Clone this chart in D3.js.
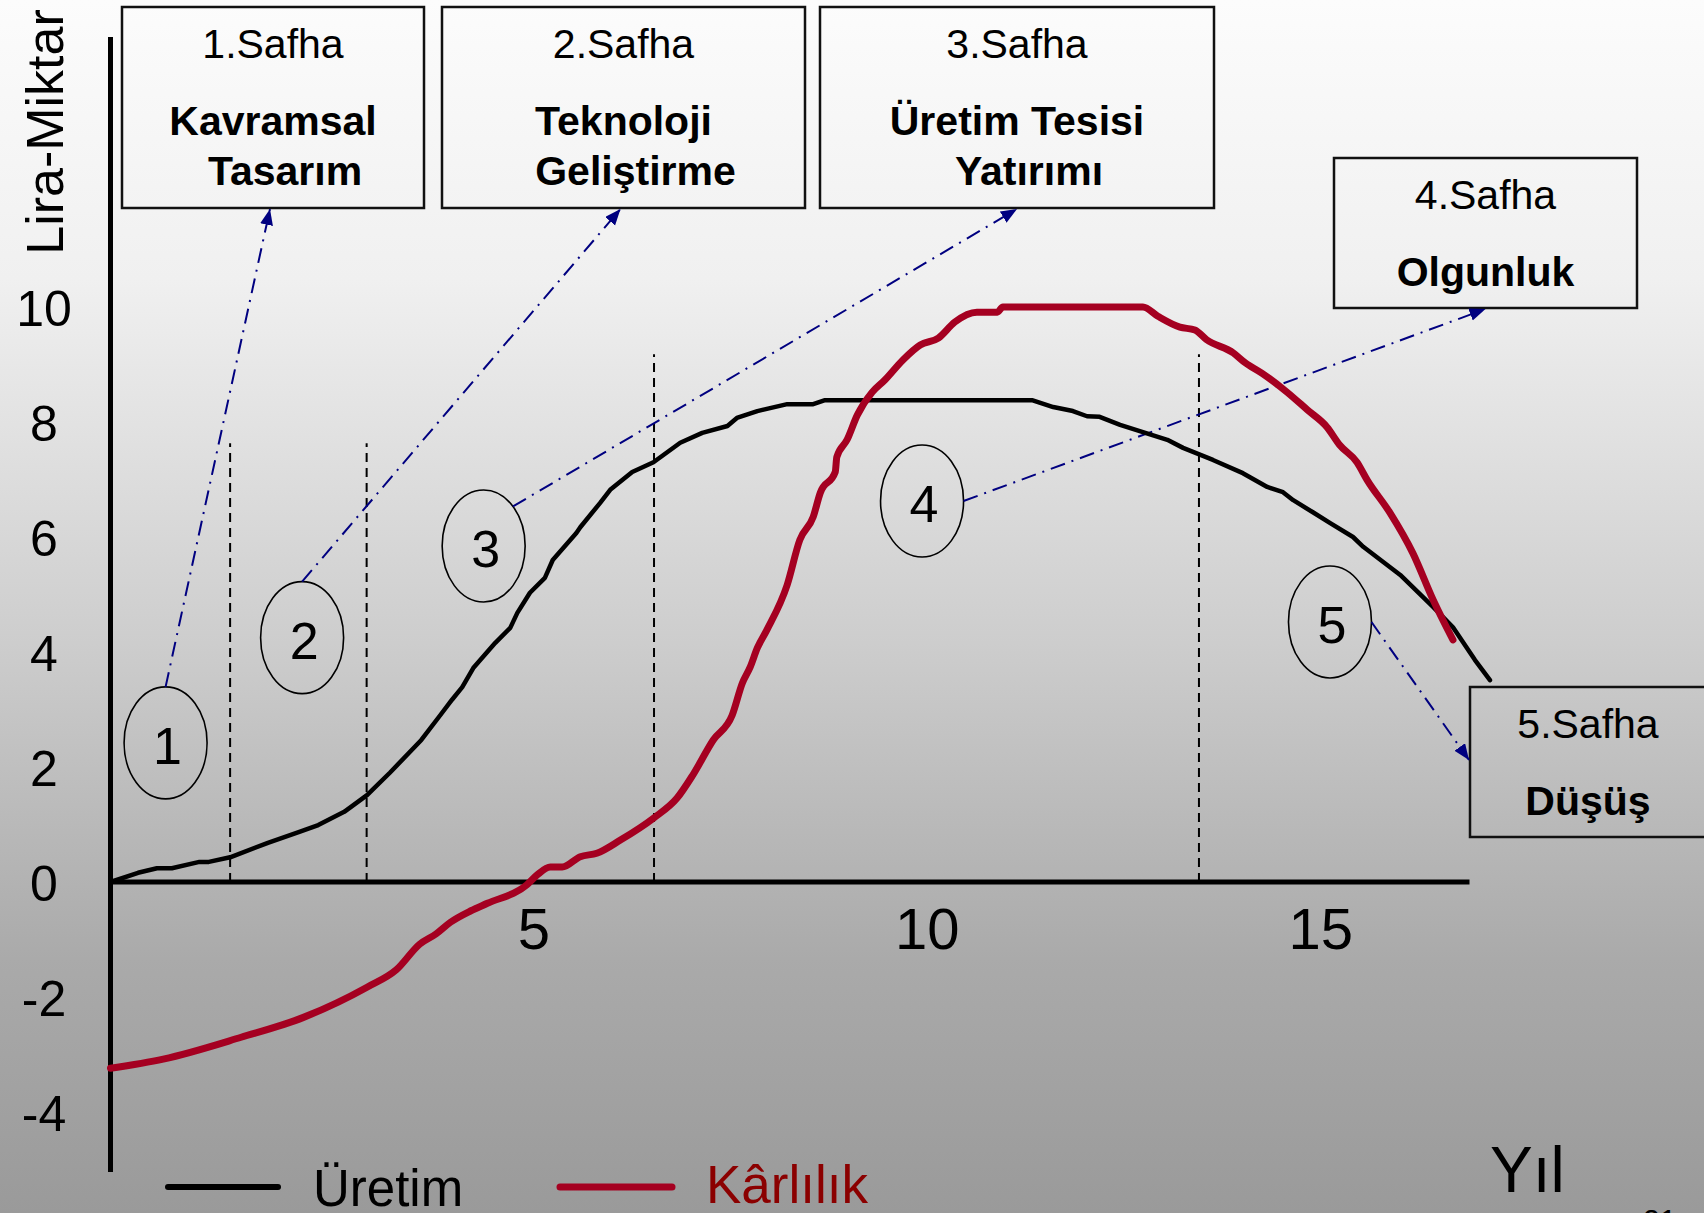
<!DOCTYPE html>
<html><head><meta charset="utf-8">
<script src="https://cdn.jsdelivr.net/npm/d3@7"></script>
<style>html,body{margin:0;padding:0;overflow:hidden;background:#fff}svg{display:block}</style>
</head><body>
<svg id="chart" width="1704" height="1213"></svg>
<script>
// ---------------- DATA ----------------
const xTickValues = [5, 10, 15];
const yTickValues = [-4, -2, 0, 2, 4, 6, 8, 10];

const uretimYil = [-0.38,-0.03,0.21,0.40,0.75,0.87,1.14,1.62,2.02,2.26,2.59,2.88,3.17,3.57,3.81,3.96,4.09,4.23,4.51,4.70,4.79,4.95,5.14,5.24,5.54,5.59,5.84,5.97,6.25,6.52,6.86,7.14,7.46,7.58,7.84,8.22,8.55,8.70,11.33,11.60,11.85,12.03,12.19,12.45,13.05,13.25,13.63,14.01,14.32,14.52,14.65,14.90,15.12,15.41,15.54,16.01,16.43,16.68,16.96,17.15];
const uretimDeger = [0,0.16,0.24,0.24,0.35,0.35,0.43,0.68,0.87,0.99,1.22,1.51,1.90,2.47,2.90,3.17,3.39,3.72,4.16,4.42,4.68,5.03,5.29,5.60,6.07,6.17,6.59,6.82,7.13,7.30,7.64,7.81,7.93,8.07,8.19,8.31,8.31,8.38,8.38,8.26,8.19,8.10,8.09,7.95,7.69,7.55,7.34,7.11,6.87,6.78,6.64,6.43,6.24,6.00,5.83,5.34,4.78,4.43,3.86,3.51];

const karlilikYil = [-0.38,0.29,1.28,2.08,2.88,3.25,3.55,3.76,3.94,4.20,4.41,4.91,5.04,5.21,5.36,5.59,5.80,6.10,6.52,6.82,7.02,7.28,7.52,7.65,7.75,7.84,7.96,8.22,8.38,8.55,8.64,8.83,8.85,8.98,9.11,9.30,9.46,9.69,9.91,10.14,10.35,10.63,10.89,10.96,12.74,12.93,13.21,13.40,13.55,13.89,14.04,14.25,14.57,14.83,15.08,15.24,15.46,15.59,15.88,16.17,16.43,16.68];
const karlilikDeger = [-3.24,-3.08,-2.70,-2.35,-1.83,-1.53,-1.08,-0.90,-0.70,-0.50,-0.37,-0.05,0.12,0.26,0.26,0.44,0.50,0.73,1.11,1.46,1.86,2.47,2.90,3.46,3.74,4.07,4.38,5.17,5.95,6.35,6.77,7.13,7.39,7.69,8.12,8.52,8.73,9.08,9.34,9.46,9.74,9.91,9.91,10.00,10.00,9.84,9.65,9.60,9.43,9.20,9.03,8.85,8.52,8.21,7.91,7.60,7.30,6.99,6.42,5.72,4.90,4.21];

const safhaSinirYil = [1.14, 2.875, 6.527, 13.452];
const safhaSinirUst = [7.63, 7.63, 9.18, 9.18];

const safhaNo = ["1", "2", "3", "4", "5"];
const safhaMerkezYil = [0.32, 2.055, 4.362, 9.933, 15.117];
const safhaMerkezDeger = [2.42, 4.25, 5.843, 6.626, 4.522];
const safhaBaslik = ["1.Safha", "2.Safha", "3.Safha", "4.Safha", "5.Safha"];
const safhaAdi = [["Kavramsal", "Tasarım"], ["Teknoloji", "Geliştirme"], ["Üretim Tesisi", "Yatırımı"], ["Olgunluk"], ["Düşüş"]];
const legendLabels = ["Üretim", "Kârlılık"];
const yLabel = "Lira-Miktar";
const xLabel = "Yıl";

// ---------------- LAYOUT / STYLE ----------------
const W = 1704, H = 1213;
const FONT = "'Liberation Sans', Arial, Helvetica, sans-serif";
const RED = "#a50021", NAVY = "#000080";
const svg = d3.select("#chart");

const x = d3.scaleLinear().domain([-0.38, 16.89]).range([110.5, 1469.5]);
const y = d3.scaleLinear().domain([0, 10]).range([882, 307]);

// background gradient
const defs = svg.append("defs");
const grad = defs.append("linearGradient").attr("id", "bg").attr("x1", 0).attr("y1", 0).attr("x2", 0).attr("y2", 1);
[[0, "#fcfcfc"], [0.23, "#f0f0f0"], [0.53, "#cdcdcd"], [0.79, "#aaaaaa"], [1, "#9a9a9a"]]
  .forEach(([o, c]) => grad.append("stop").attr("offset", o).attr("stop-color", c));
svg.append("rect").attr("width", W).attr("height", H).attr("fill", "url(#bg)");

defs.append("marker").attr("id", "arrow").attr("markerUnits", "userSpaceOnUse")
  .attr("markerWidth", 18).attr("markerHeight", 14).attr("refX", 16).attr("refY", 6.5)
  .attr("orient", "auto")
  .append("path").attr("d", "M0,0 L16,6.5 L0,13 Z").attr("fill", NAVY);

// phase boxes
const boxes = [
  {x: 122, y: 7, w: 302, h: 201},
  {x: 442, y: 7, w: 363, h: 201},
  {x: 820, y: 7, w: 394, h: 201},
  {x: 1334, y: 158, w: 303, h: 150},
  {x: 1470, y: 687, w: 236, h: 150}
];
boxes.forEach((b, i) => {
  const g = svg.append("g");
  g.append("rect").attr("x", b.x).attr("y", b.y).attr("width", b.w).attr("height", b.h)
    .attr("fill", "none").attr("stroke", "#111").attr("stroke-width", 2.5);
  const cx = b.x + b.w / 2;
  g.append("text").attr("x", cx).attr("y", b.y + 51).attr("text-anchor", "middle")
    .attr("font-family", FONT).attr("font-size", 41).attr("fill", "#000").text(safhaBaslik[i]);
  safhaAdi[i].forEach((t, j) => {
    g.append("text").attr("x", cx + (j === 1 ? 12 : 0)).attr("y", b.y + 128 + j * 50)
      .attr("text-anchor", "middle").attr("font-family", FONT).attr("font-weight", "bold")
      .attr("font-size", 41).attr("fill", "#000").text(t);
  });
});

// phase boundary dashed lines
svg.append("g").selectAll("line").data(safhaSinirYil).join("line")
  .attr("x1", d => x(d)).attr("x2", d => x(d))
  .attr("y1", y(0)).attr("y2", (d, i) => y(safhaSinirUst[i]))
  .attr("stroke", "#000").attr("stroke-width", 2).attr("stroke-dasharray", "9,6");

// ellipses with numbers
const RX = 41.5, RY = 56;
const eg = svg.append("g");
safhaNo.forEach((n, i) => {
  const cx = x(safhaMerkezYil[i]), cy = y(safhaMerkezDeger[i]);
  eg.append("ellipse").attr("cx", cx).attr("cy", cy).attr("rx", RX).attr("ry", RY)
    .attr("fill", "none").attr("stroke", "#000").attr("stroke-width", 1.6);
  eg.append("text").attr("x", cx + 2).attr("y", cy + 21).attr("text-anchor", "middle")
    .attr("font-family", FONT).attr("font-size", 52).attr("fill", "#000").text(n);
});

// dash-dot arrows from ellipses to boxes
const startAngles = [-90, -90, -45, 0, 0];
const ends = [
  b => [b.x + b.w / 2 - 3, b.y + b.h + 1],
  b => [b.x + b.w / 2 - 3, b.y + b.h + 1],
  b => [b.x + b.w / 2, b.y + b.h + 1],
  b => [b.x + b.w / 2, b.y + b.h + 1],
  b => [b.x - 1, b.y + b.h / 2 - 2]
];
safhaNo.forEach((n, i) => {
  const cx = x(safhaMerkezYil[i]), cy = y(safhaMerkezDeger[i]);
  const a = startAngles[i] * Math.PI / 180;
  const sx = cx + RX * Math.cos(a), sy = cy + RY * Math.sin(a);
  const [ex, ey] = ends[i](boxes[i]);
  svg.append("line").attr("x1", sx).attr("y1", sy).attr("x2", ex).attr("y2", ey)
    .attr("stroke", NAVY).attr("stroke-width", 2).attr("stroke-dasharray", "15,7,2,7")
    .attr("marker-end", "url(#arrow)");
});

// axes
svg.append("line").attr("x1", x.range()[0]).attr("x2", x.range()[0]).attr("y1", 37).attr("y2", 1172)
  .attr("stroke", "#000").attr("stroke-width", 5);
svg.append("line").attr("x1", x.range()[0]).attr("x2", x.range()[1]).attr("y1", y(0)).attr("y2", y(0))
  .attr("stroke", "#000").attr("stroke-width", 5);

svg.append("g").selectAll("text").data(yTickValues).join("text")
  .attr("x", 44).attr("y", d => y(d) + 19).attr("text-anchor", "middle")
  .attr("font-family", FONT).attr("font-size", 50).attr("fill", "#000").text(d => d);
svg.append("g").selectAll("text").data(xTickValues).join("text")
  .attr("x", d => x(d)).attr("y", 949).attr("text-anchor", "middle")
  .attr("font-family", FONT).attr("font-size", 58).attr("fill", "#000").text(d => d);

svg.append("text").attr("transform", "translate(63,132) rotate(-90)").attr("text-anchor", "middle")
  .attr("font-family", FONT).attr("font-size", 52).attr("fill", "#000").text(yLabel);
svg.append("text").attr("x", 1490).attr("y", 1192)
  .attr("font-family", FONT).attr("font-size", 64).attr("fill", "#000").text(xLabel);

// curves
const lineBlack = d3.line().x(d => x(d[0])).y(d => y(d[1])).curve(d3.curveLinear);
const lineRed = d3.line().x(d => x(d[0])).y(d => y(d[1])).curve(d3.curveMonotoneX);
const uretim = uretimYil.map((v, i) => [v, uretimDeger[i]]);
const karlilik = karlilikYil.map((v, i) => [v, karlilikDeger[i]]);
svg.append("path").attr("d", lineBlack(uretim)).attr("fill", "none").attr("stroke", "#000")
  .attr("stroke-width", 4.5).attr("stroke-linejoin", "round").attr("stroke-linecap", "round");
svg.append("path").attr("d", lineRed(karlilik)).attr("fill", "none").attr("stroke", RED)
  .attr("stroke-width", 7).attr("stroke-linejoin", "round").attr("stroke-linecap", "round");

// legend
const lg = svg.append("g");
lg.append("line").attr("x1", 168).attr("x2", 278).attr("y1", 1187).attr("y2", 1187)
  .attr("stroke", "#000").attr("stroke-width", 6).attr("stroke-linecap", "round");
lg.append("text").attr("x", 313).attr("y", 1206).attr("font-family", FONT).attr("font-size", 51)
  .attr("fill", "#000").text(legendLabels[0]);
lg.append("line").attr("x1", 560).attr("x2", 672).attr("y1", 1187).attr("y2", 1187)
  .attr("stroke", RED).attr("stroke-width", 7).attr("stroke-linecap", "round");
lg.append("text").attr("x", 706).attr("y", 1203).attr("font-family", FONT).attr("font-size", 53)
  .attr("fill", "#8b0000").text(legendLabels[1]);

// slide number (cut off at the bottom edge, as in the reference)
svg.append("text").attr("x", 1643).attr("y", 1230).attr("font-family", FONT).attr("font-size", 30)
  .attr("fill", "#000").text("21");
</script>
</body></html>
